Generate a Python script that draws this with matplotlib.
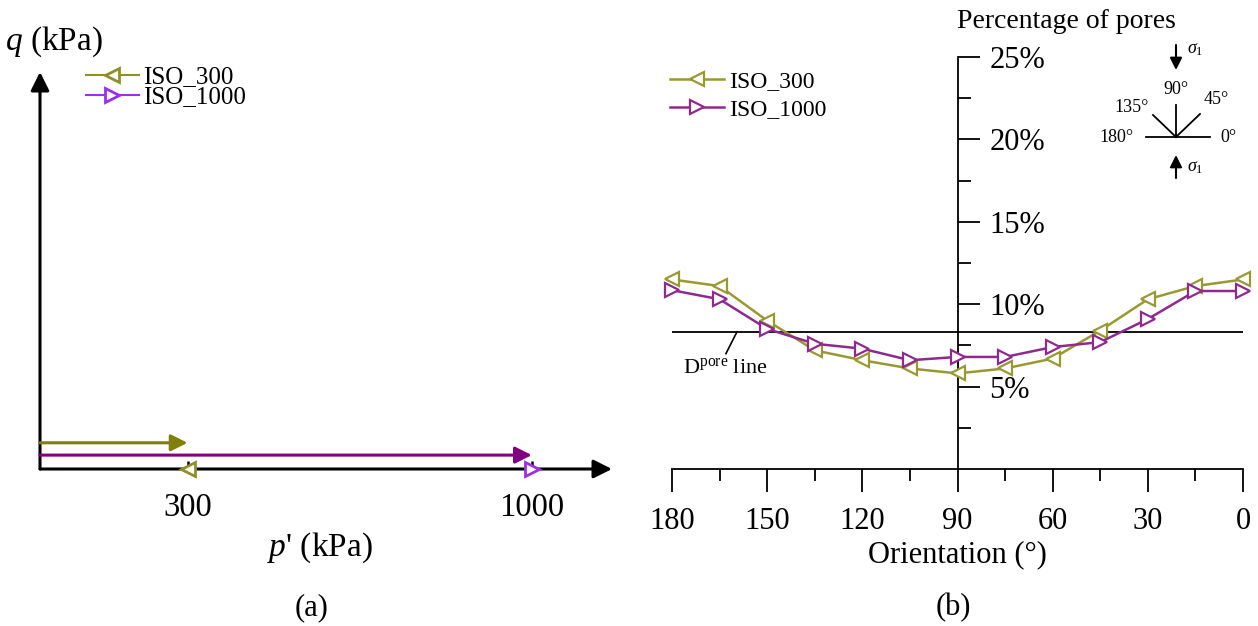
import numpy as np
import matplotlib
matplotlib.use("Agg")
import matplotlib.pyplot as plt
from matplotlib.ticker import FixedLocator, FuncFormatter

plt.rcParams['font.family'] = ['Liberation Serif', 'DejaVu Serif']
plt.rcParams['mathtext.fontset'] = 'custom'
plt.rcParams['mathtext.rm'] = 'Liberation Serif'
plt.rcParams['mathtext.it'] = 'Liberation Serif:italic'

W, H = 1258, 626

# (a) stress paths: isotropic compression to p'
series = ['ISO_300', 'ISO_1000']
p_end = [300, 1000]
q_offset = [6.6, 3.5]          # small visual offset of the path arrows above q = 0
p_ticks = [300, 1000]

# (b) pore orientation distribution
orient = [180, 165, 150, 135, 120, 105, 90, 75, 60, 45, 30, 15, 0]
iso_300 = [11.5, 11.1, 9.0, 7.2, 6.6, 6.1, 5.8, 6.1, 6.7, 8.4, 10.3, 11.1, 11.5]
iso_1000 = [10.85, 10.3, 8.5, 7.6, 7.3, 6.6, 6.8, 6.8, 7.4, 7.7, 9.1, 10.8, 10.8]
d_pore = 8.33
pct_ticks = [5, 10, 15, 20, 25]

olive_a = '#808000'
olive_la = '#8f8f2a'
purple_a = '#800080'
purple_la = '#9b30e8'
olive_b = '#999933'
purple_b = '#8e2a8e'

fig = plt.figure(figsize=(W / 100, H / 100), dpi=100)

# ---------- panel (a)
ax = fig.add_axes([40 / W, 1 - 469 / H, (612 - 40) / W, (469 - 72) / H])
ax.set_xlim(0, 1163)
ax.set_ylim(0, 100)
for s in ax.spines.values():
    s.set_visible(False)
ax.annotate('', xy=(1, 0), xytext=(0, 0), xycoords='axes fraction',
            arrowprops=dict(arrowstyle='-|>', lw=2.2, color='k', mutation_scale=28,
                            shrinkA=0, shrinkB=0))
ax.annotate('', xy=(0, 1), xytext=(0, 0), xycoords='axes fraction',
            arrowprops=dict(arrowstyle='-|>', lw=2.2, color='k', mutation_scale=28,
                            shrinkA=0, shrinkB=0))
arrow_cols = [olive_a, purple_a]
leg_cols = [olive_la, purple_la]
marks = ['<', '>']
for i in range(len(series)):
    ax.annotate('', xy=(p_end[i], q_offset[i]), xytext=(0, q_offset[i]),
                arrowprops=dict(arrowstyle='-|>', lw=2.2, color=arrow_cols[i],
                                mutation_scale=25, shrinkA=0, shrinkB=0))
    ax.plot([p_end[i]], [0], marker=marks[i], ms=10, mfc='white', mec=leg_cols[i],
            mew=2, color=leg_cols[i], lw=1.5, label=series[i], clip_on=False, zorder=5)
ax.set_xticks(p_ticks)
ax.set_xticklabels([str(v) for v in p_ticks])
ax.set_yticks([])
ax.tick_params(axis='x', direction='in', length=6, width=1.8, labelsize=23.5, pad=17)
ax.legend(loc='upper left', bbox_to_anchor=(86 / W, 1 - 66 / H), bbox_transform=fig.transFigure,
          frameon=False, fontsize=18, handlelength=2.1, handletextpad=0.2,
          labelspacing=-0.1, borderpad=0, borderaxespad=0)
fig.text(5 / W, 1 - 42 / H, r'$q$ (kPa)', fontsize=24, ha='left', va='center')
fig.text(320 / W, 1 - 548 / H, r"$p$' (kPa)", fontsize=24, ha='center', va='center')
fig.text(312 / W, 1 - 608 / H, '(a)', fontsize=22, ha='center', va='center')

# ---------- panel (b)
bx = fig.add_axes([672 / W, 1 - 469 / H, (1243 - 672) / W, (469 - 57) / H])
bx.set_xlim(180, 0)
bx.set_ylim(0, 25)
bx.spines['top'].set_visible(False)
bx.spines['left'].set_visible(False)
bx.spines['right'].set_position(('data', 90))
bx.spines['right'].set_linewidth(1.3)
bx.spines['bottom'].set_linewidth(1.3)
bx.yaxis.tick_right()
bx.yaxis.set_major_locator(FixedLocator(pct_ticks))
bx.yaxis.set_minor_locator(FixedLocator([2.5, 7.5, 12.5, 17.5, 22.5]))
bx.yaxis.set_major_formatter(FuncFormatter(lambda v, pos: '%d%%' % v))
bx.set_xticks(range(0, 181, 30))
bx.set_xticks(range(15, 180, 30), minor=True)
bx.tick_params(axis='y', which='major', direction='out', length=16, width=1.3, labelsize=22, pad=7)
bx.tick_params(axis='y', which='minor', direction='out', length=9, width=1.3)
bx.tick_params(axis='x', which='major', direction='out', length=16.5, width=1.3, labelsize=22, pad=11)
bx.tick_params(axis='x', which='minor', direction='out', length=8.5, width=1.3)
bx.axhline(d_pore, color='k', lw=1.3)
bx.plot(orient, iso_300, color=olive_b, lw=1.8, marker='<', ms=9.5, mfc='white',
        mec=olive_b, mew=1.6, label='ISO_300', clip_on=False, zorder=4)
bx.plot(orient, iso_1000, color=purple_b, lw=1.8, marker='>', ms=9.5, mfc='white',
        mec=purple_b, mew=1.6, label='ISO_1000', clip_on=False, zorder=5)
bx.set_xlabel('Orientation (°)', fontsize=22, labelpad=3)
bx.legend(loc='upper left', bbox_to_anchor=(670 / W, 1 - 71 / H), bbox_transform=fig.transFigure,
          frameon=False, fontsize=17, handlelength=2.3, handletextpad=0.2,
          labelspacing=0.25, borderpad=0, borderaxespad=0)
bx.plot([163, 159.5], [7.0, d_pore], color='k', lw=1.2)
bx.text(176.5, 6.1, r'D$^{\mathregular{pore}}$ line', fontsize=16, ha='left', va='center')
fig.text(1066 / W, 1 - 22 / H, 'Percentage of pores', fontsize=20, ha='center', va='center')
fig.text(953 / W, 1 - 608 / H, '(b)', fontsize=22, ha='center', va='center')

# ---------- orientation sketch (figure pixel coords)
ov = fig.add_axes([0, 0, 1, 1])
ov.set_xlim(0, W)
ov.set_ylim(H, 0)
ov.axis('off')
cx, cy = 1176, 137
ov.plot([1146, 1210], [cy, cy], color='k', lw=1.3)
ov.plot([cx, cx], [cy, 105], color='k', lw=1.3)
ov.plot([cx, 1153], [cy, 115], color='k', lw=1.3)
ov.plot([cx, 1200], [cy, 114], color='k', lw=1.3)
for txt, x, y in [('90°', 1176, 89), ('135°', 1132, 107), ('45°', 1216, 100),
                  ('180°', 1116, 138), ('0°', 1228, 137)]:
    ov.text(x, y, txt, fontsize=13, ha='center', va='center')
ov.annotate('', xy=(cx, 70), xytext=(cx, 45),
            arrowprops=dict(arrowstyle='-|>', color='k', lw=1.5, mutation_scale=18, shrinkA=0, shrinkB=0))
ov.annotate('', xy=(cx, 155), xytext=(cx, 178),
            arrowprops=dict(arrowstyle='-|>', color='k', lw=1.5, mutation_scale=18, shrinkA=0, shrinkB=0))
ov.text(1187, 50, r'$\sigma_1$', fontsize=13, ha='left', va='center')
ov.text(1187, 168, r'$\sigma_1$', fontsize=13, ha='left', va='center')

fig.savefig('out.png', dpi=100)
